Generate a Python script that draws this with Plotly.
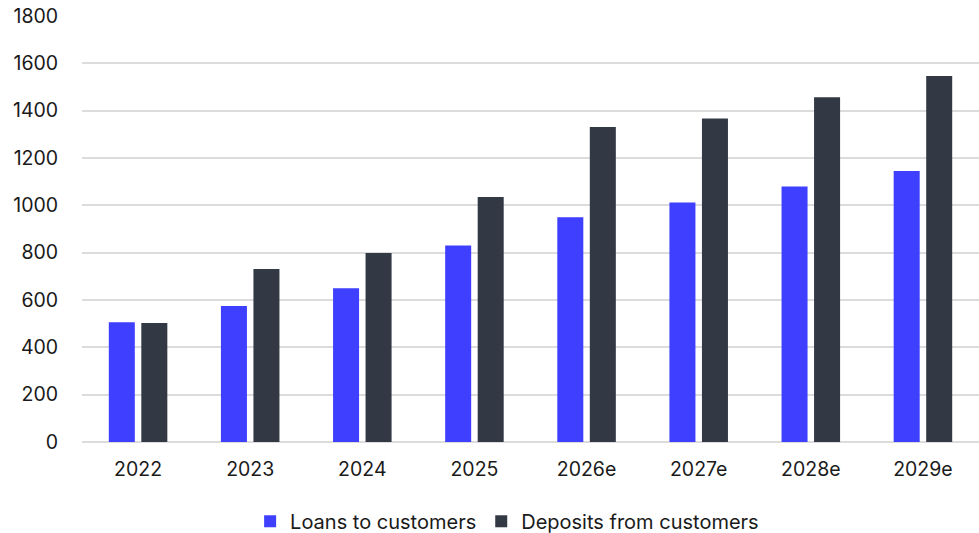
import plotly.graph_objects as go

categories = ["2022", "2023", "2024", "2025", "2026e", "2027e", "2028e", "2029e"]
loans = [506, 575, 650, 830, 950, 1012, 1080, 1145]
deposits = [503, 731, 799, 1035, 1331, 1367, 1457, 1546]
y_ticks = [0, 200, 400, 600, 800, 1000, 1200, 1400, 1600, 1800]

FONT = "Inter, Roboto, sans-serif"
TICK_SIZE = 19.5

fig = go.Figure()
fig.add_trace(go.Bar(x=categories, y=loans, name="Loans to customers",
                     marker=dict(color="#3f3fff", line=dict(width=0))))
fig.add_trace(go.Bar(x=categories, y=deposits, name="Deposits from customers",
                     marker=dict(color="#323844", line=dict(width=0))))

fig.update_layout(
    width=979, height=533,
    margin=dict(l=82, r=0, t=16, b=91, autoexpand=False),
    paper_bgcolor="white", plot_bgcolor="white",
    barmode="group", bargap=0.42, bargroupgap=0.2,
    font=dict(family=FONT, size=TICK_SIZE, color="#1a1a1a"),
    showlegend=True,
    legend=dict(orientation="h", x=0.518, xref="container", xanchor="center",
                y=0.022, yref="container", yanchor="middle",
                font=dict(size=20), itemwidth=30, traceorder="normal"),
)
fig.update_xaxes(showgrid=False, showline=False, ticks="outside", ticklen=10,
                 tickcolor="rgba(0,0,0,0)", tickfont=dict(size=TICK_SIZE))
fig.update_yaxes(range=[0, 1800], tickvals=y_ticks, showgrid=True, gridcolor="#dcdcdc",
                 gridwidth=1.5, zeroline=True, zerolinecolor="#dcdcdc", zerolinewidth=1.5,
                 showline=False, ticks="outside", ticklen=19, tickcolor="rgba(0,0,0,0)",
                 tickfont=dict(size=TICK_SIZE))

fig.write_html("out.html")
